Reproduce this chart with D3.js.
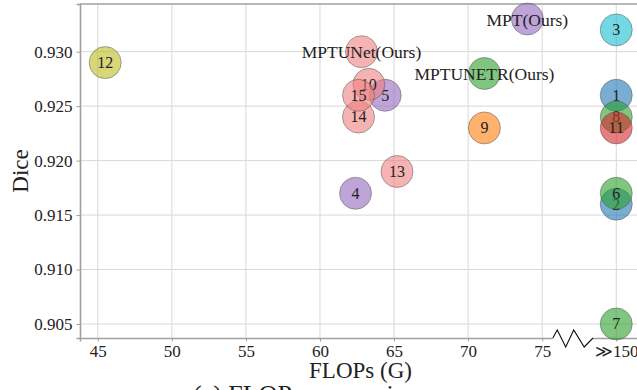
<!DOCTYPE html>
<html lang="en">
<head>
<meta charset="utf-8">
<script src="https://d3js.org/d3.v7.min.js"></script>
<style>
  body { margin: 0; background: #fff; }
  text { font-family: "Liberation Serif", "DejaVu Serif", serif; }
</style>
</head>
<body>
<script>

// models, FLOPs (G) and Dice; points at 80 sit on the broken-axis slot labelled >>150
const names = ["1", "2", "3", "4", "5", "6", "7", "8", "9", "10", "11", "12", "13", "14", "15",
               "MPT(Ours)", "MPTUNETR(Ours)", "MPTUNet(Ours)"]
const flops = [80, 80, 80, 62.4, 64.4, 80, 80, 80, 71.1, 63.3, 80, 45.5, 65.2, 62.6, 62.6,
               74.0, 71.1, 62.8]
const dice = [0.926, 0.916, 0.932, 0.917, 0.926, 0.917, 0.905, 0.924, 0.923, 0.927, 0.923, 0.929,
              0.919, 0.924, 0.926, 0.933, 0.928, 0.930]
const colors = ["#1f77b4", "#1f77b4", "#17becf", "#9467bd", "#9467bd", "#2ca02c", "#2ca02c",
                "#2ca02c", "#ff7f0e", "#f08080", "#d62728", "#bcbd22", "#f08080", "#f08080",
                "#f08080", "#9467bd", "#2ca02c", "#f08080"]

const xTicks = [45, 50, 55, 60, 65, 70, 75, 80]
const xTickLabels = ["45", "50", "55", "60", "65", "70", "75", "\u226B150"]
const yTicks = [0.905, 0.910, 0.915, 0.920, 0.925, 0.930]
const breakRange = [75.72, 78.43]

const width = 637, height = 390
const mL = 80, mR = 641, mT = 4, mB = 338

const x = d3.scaleLinear().domain([43.8, 81.67]).range([mL, mR])
const y = d3.scaleLinear().domain([0.90371, 0.93438]).range([mB, mT])

const svg = d3.select('body').append('svg')
  .attr('width', width)
  .attr('height', height)

// grid
svg.append('g').selectAll('line')
  .data(xTicks)
  .enter().append('line')
  .attr('x1', d => x(d)).attr('x2', d => x(d))
  .attr('y1', mT).attr('y2', mB)
  .attr('stroke', '#d8d8d8').attr('stroke-width', 1)

svg.append('g').selectAll('line')
  .data(yTicks)
  .enter().append('line')
  .attr('x1', mL).attr('x2', mR)
  .attr('y1', d => y(d)).attr('y2', d => y(d))
  .attr('stroke', '#d8d8d8').attr('stroke-width', 1)

// axes
const xAxis = d3.axisBottom(x)
  .tickValues(xTicks)
  .tickFormat((d, i) => xTickLabels[i])
  .tickSize(3.5)
  .tickPadding(3)
const yAxis = d3.axisLeft(y)
  .tickValues(yTicks)
  .tickFormat(d3.format('.3f'))
  .tickSize(3.5)
  .tickPadding(4)

const gx = svg.append('g').attr('transform', 'translate(0,' + mB + ')').call(xAxis)
const gy = svg.append('g').attr('transform', 'translate(' + mL + ',0)').call(yAxis)

;[gx, gy].forEach(g => {
  g.attr('font-family', null).attr('font-size', null)
  g.select('.domain').attr('stroke', '#a0a0a0').attr('stroke-width', 1.6)
  g.selectAll('.tick line').attr('stroke', '#a0a0a0').attr('stroke-width', 1)
  g.selectAll('.tick text')
    .style('font-family', '"Liberation Serif", serif')
    .style('font-size', '17px')
    .attr('fill', '#222')
})

// top spine
svg.append('line')
  .attr('x1', mL).attr('x2', mR)
  .attr('y1', mT).attr('y2', mT)
  .attr('stroke', '#a0a0a0').attr('stroke-width', 1.6)

// axis break
const bx0 = x(breakRange[0]), bx1 = x(breakRange[1])
svg.append('rect')
  .attr('x', bx0).attr('y', mB - 2)
  .attr('width', bx1 - bx0).attr('height', 4)
  .attr('fill', '#fff')
const step = (bx1 - bx0) / 5
const zig = [[bx0, mB], [bx0 + step * 0.55, mB - 8], [bx0 + step * 1.6, mB + 9],
             [bx0 + step * 2.6, mB - 8], [bx0 + step * 3.9, mB + 9], [bx1, mB]]
svg.append('path')
  .attr('d', d3.line()(zig))
  .attr('fill', 'none')
  .attr('stroke', '#111')
  .attr('stroke-width', 1.1)

// points
const pts = svg.append('g').selectAll('g')
  .data(names)
  .enter().append('g')

pts.append('circle')
  .attr('cx', (d, i) => x(flops[i]))
  .attr('cy', (d, i) => y(dice[i]))
  .attr('r', 16)
  .attr('fill', (d, i) => colors[i])
  .attr('fill-opacity', 0.6)
  .attr('stroke', '#555')
  .attr('stroke-opacity', 0.5)
  .attr('stroke-width', 1)

pts.append('text')
  .attr('x', (d, i) => x(flops[i]))
  .attr('y', (d, i) => y(dice[i]))
  .attr('dy', (d, i) => i < 15 ? '0.34em' : '0.38em')
  .attr('text-anchor', 'middle')
  .style('font-size', (d, i) => (i < 15 ? 16 : 17.5) + 'px')
  .attr('fill', '#222')
  .text(d => d)

// axis labels
svg.append('text')
  .attr('x', (mL + mR) / 2)
  .attr('y', 378)
  .attr('text-anchor', 'middle')
  .style('font-size', '23px')
  .attr('fill', '#222')
  .text('FLOPs (G)')

svg.append('text')
  .attr('transform', 'translate(28,' + ((mT + mB) / 2) + ') rotate(-90)')
  .attr('text-anchor', 'middle')
  .style('font-size', '23px')
  .attr('fill', '#222')
  .text('Dice')

// caption, cut off by the bottom of the picture
svg.append('text')
  .attr('x', 193)
  .attr('y', 403)
  .style('font-size', '26px')
  .attr('fill', '#222')
  .text('(a) FLOPs comparison')

</script>
</body>
</html>
